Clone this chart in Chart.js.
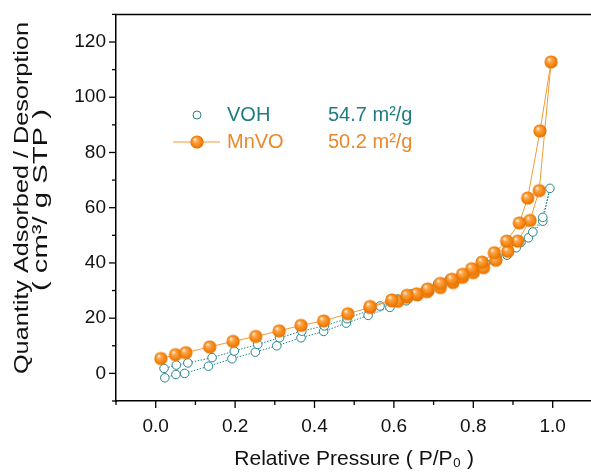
<!DOCTYPE html>
<html>
<head>
<meta charset="utf-8">
<script src="https://cdn.jsdelivr.net/npm/chart.js@4.4.1/dist/chart.umd.min.js"></script>
<style>
html,body{margin:0;padding:0;overflow:hidden;background:#fff;}
#wrap{position:relative;width:600px;height:475px;}
canvas{display:block;}
</style>
</head>
<body>
<div id="wrap"><canvas id="c" width="600" height="475"></canvas></div>
<script>
// ---- data ----
const VOH_ADS_P = [0.023,0.051,0.073,0.133,0.192,0.251,0.305,0.366,0.423,0.48,0.535,0.59,0.631,0.66,0.69,0.72,0.75,0.775,0.80,0.825,0.855,0.885,0.908,0.939,0.975,0.993];
const VOH_ADS_Q = [-1.6,-0.4,0.0,2.6,5.3,7.7,10.0,12.9,15.2,18.2,21.0,23.9,26.3,27.9,29.6,31.3,33.0,34.6,36.3,38.3,40.6,42.8,45.5,49.1,55.1,67.0];
const VOH_DES_P = [0.975,0.95,0.92,0.89,0.86,0.83,0.80,0.77,0.74,0.71,0.68,0.645,0.61,0.565,0.482,0.425,0.368,0.312,0.257,0.198,0.142,0.081,0.052,0.021];
const VOH_DES_Q = [56.5,51.2,47.4,44.5,42.2,40.0,37.9,36.0,34.2,32.4,30.6,28.8,26.9,24.4,19.8,17.2,15.3,12.9,10.5,8.1,5.7,3.8,3.0,1.8];

const MNVO_ADS_P = [0.013,0.05,0.076,0.136,0.195,0.252,0.311,0.366,0.423,0.484,0.540,0.595,0.61,0.633,0.659,0.684,0.717,0.749,0.773,0.80,0.826,0.857,0.887,0.912,0.943,0.966,0.996];
const MNVO_ADS_Q = [5.4,6.8,7.5,9.6,11.6,13.4,15.4,17.4,19.0,21.6,23.9,26.3,26.1,27.6,28.5,29.6,31.1,32.9,34.8,36.5,38.3,41.0,44.2,47.9,55.4,66.2,112.8];
const MNVO_DES_P = [0.968,0.937,0.916,0.884,0.853,0.822,0.796,0.773,0.746,0.717,0.685,0.657,0.633,0.595,0.540];
const MNVO_DES_Q = [87.8,63.5,54.5,47.9,43.7,40.3,37.9,35.9,34.1,32.6,30.6,28.8,28.3,26.6,24.2];

const SERIES_NAMES = ['VOH','MnVO'];
const SURFACE_AREAS = ['54.7 m\u00B2/g','50.2 m\u00B2/g'];
const X_TICK_LABELS = ['0.0','0.2','0.4','0.6','0.8','1.0'];
const Y_TICK_LABELS = ['0','20','40','60','80','100','120'];
const X_TITLE = 'Relative Pressure ( P/P\u2080 )';
const Y_TITLE = ['Quantity Adsorbed / Desorption','( cm\u00B3/ g STP )'];

const TEAL = '#23858b';
const TEAL_TEXT = '#1f7c82';
const ORANGE = '#f39a35';
const ORANGE_TEXT = '#e8892b';
const FONT = '"Liberation Sans", Arial, sans-serif';

function pts(P,Q){ return P.map((p,i)=>({x:p,y:Q[i]})); }
const vohData = pts(VOH_ADS_P,VOH_ADS_Q).concat(pts(VOH_DES_P,VOH_DES_Q));
const mnvoData = pts(MNVO_ADS_P,MNVO_ADS_Q).concat(pts(MNVO_DES_P,MNVO_DES_Q));

// shaded sphere marker
function sphere(r){
  const c = document.createElement('canvas');
  const s = Math.ceil(r*2+2);
  c.width = s; c.height = s;
  const g = c.getContext('2d');
  const cx = s/2, cy = s/2;
  const grad = g.createRadialGradient(cx-r*0.35, cy-r*0.4, r*0.05, cx, cy, r);
  grad.addColorStop(0,'#fff3e0');
  grad.addColorStop(0.3,'#fca548');
  grad.addColorStop(0.75,'#f5830d');
  grad.addColorStop(1,'#e06f00');
  g.fillStyle = grad;
  g.beginPath(); g.arc(cx,cy,r,0,Math.PI*2); g.fill();
  return c;
}
const SPHERE = sphere(6.6);

const frameAndTicks = {
  id:'frameAndTicks',
  afterDraw(chart){
    const ctx = chart.ctx, a = chart.chartArea;
    const xs = chart.scales.x, ys = chart.scales.y;
    ctx.save();
    ctx.strokeStyle = '#000';
    ctx.lineWidth = 1.5;
    ctx.beginPath();
    ctx.moveTo(a.left-0.75, a.top); ctx.lineTo(chart.width, a.top);
    ctx.stroke();
    ctx.lineWidth = 1.3;
    xs.ticks.forEach(t=>{
      const px = xs.getPixelForValue(t.value);
      const major = Math.round(t.value*10)%2===0;
      const len = major?7:4;
      ctx.beginPath(); ctx.moveTo(px,a.bottom); ctx.lineTo(px,a.bottom+len); ctx.stroke();
    });
    ys.ticks.forEach(t=>{
      const py = ys.getPixelForValue(t.value);
      const major = Math.round(t.value)%20===0;
      const len = major?7:4;
      ctx.beginPath(); ctx.moveTo(a.left,py); ctx.lineTo(a.left-len,py); ctx.stroke();
    });
    // y axis title (two lines, slightly stretched along the text like the reference)
    ctx.fillStyle = '#111';
    ctx.textAlign = 'center';
    ctx.textBaseline = 'middle';
    const yt = [
      {text:Y_TITLE[0], x:22, y:198, size:21, len:352},
      {text:Y_TITLE[1], x:41, y:200, size:21, len:182}
    ];
    yt.forEach(l=>{
      ctx.font = l.size + 'px ' + FONT;
      const w = ctx.measureText(l.text).width;
      ctx.save();
      ctx.translate(l.x, l.y);
      ctx.rotate(-Math.PI/2);
      ctx.scale(l.len/w, 1);
      ctx.fillText(l.text, 0, 0);
      ctx.restore();
    });
    // legend
    const rows = [
      {y:115, ds:chart.data.datasets[1], color:TEAL_TEXT},
      {y:142, ds:chart.data.datasets[0], color:ORANGE_TEXT}
    ];
    ctx.textBaseline = 'middle';
    ctx.textAlign = 'left';
    ctx.font = '20px ' + FONT;
    rows.forEach((r,i)=>{
      if(r.ds.showLine && !r.ds.borderDash){
        ctx.strokeStyle = r.ds.borderColor; ctx.lineWidth = 1;
        ctx.beginPath(); ctx.moveTo(173,r.y); ctx.lineTo(220,r.y); ctx.stroke();
      }
      if(r.ds.pointStyle instanceof HTMLCanvasElement){
        const im = r.ds.pointStyle;
        ctx.drawImage(im, 197-im.width/2, r.y-im.height/2);
      } else {
        ctx.fillStyle = '#fff'; ctx.strokeStyle = r.ds.pointBorderColor; ctx.lineWidth = 1;
        ctx.beginPath(); ctx.arc(197,r.y,4,0,Math.PI*2); ctx.fill(); ctx.stroke();
      }
      ctx.fillStyle = r.color;
      ctx.fillText(r.ds.label, 227, r.y);
      ctx.fillText(SURFACE_AREAS[SERIES_NAMES.indexOf(r.ds.label)], 328, r.y);
    });
    ctx.restore();
  }
};

new Chart(document.getElementById('c'), {
  type:'scatter',
  data:{
    datasets:[
      {
        label:SERIES_NAMES[1], data:mnvoData, showLine:true, order:0,
        borderColor:ORANGE, borderWidth:1, pointStyle:SPHERE, pointRadius:6.6,
        backgroundColor:ORANGE, tension:0
      },
      {
        label:SERIES_NAMES[0], data:vohData, showLine:true, order:1,
        borderColor:TEAL, borderWidth:1, borderDash:[1.5,1.5],
        pointRadius:4.3, pointBorderWidth:1, pointBorderColor:TEAL,
        pointBackgroundColor:'#ffffff', backgroundColor:'#ffffff', tension:0
      }
    ]
  },
  options:{
    responsive:false, animation:false, devicePixelRatio:1,
    layout:{padding:{top:12,right:7,left:0,bottom:0}},
    plugins:{legend:{display:false}, tooltip:{enabled:false}},
    scales:{
      x:{
        type:'linear', min:-0.1, max:1.1,
        afterFit(s){ s.height = 74; },
        border:{display:true,color:'#000',width:1.5},
        grid:{display:true,drawOnChartArea:false,drawTicks:true,tickLength:7,color:'rgba(0,0,0,0)'},
        ticks:{stepSize:0.1,autoSkip:false,maxRotation:0,color:'#111',padding:7,
          font:{family:FONT,size:19},
          callback(v){ const k=Math.round(v*10); return (k%2===0 && k>=0 && k<=10)? X_TICK_LABELS[k/2] : ''; }},
        title:{display:true,text:X_TITLE,color:'#111',
          font:{family:FONT,size:21},padding:{top:0,bottom:3}}
      },
      y:{
        type:'linear', min:-10, max:130,
        afterFit(s){ s.width = 116; },
        border:{display:true,color:'#000',width:1.5},
        grid:{display:true,drawOnChartArea:false,drawTicks:true,tickLength:7,color:'rgba(0,0,0,0)'},
        ticks:{stepSize:10,autoSkip:false,color:'#111',padding:3,
          font:{family:FONT,size:19},
          callback(v){ const k=Math.round(v); return (k%20===0 && k>=0 && k<=120)? Y_TICK_LABELS[k/20] : ''; }},
        title:{display:false}
      }
    }
  },
  plugins:[frameAndTicks]
});
</script>
</body>
</html>
